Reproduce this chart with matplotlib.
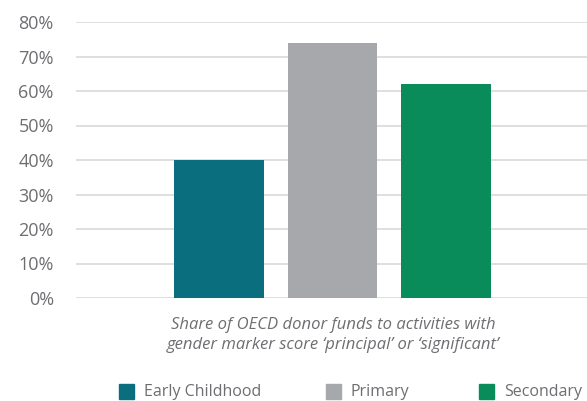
import matplotlib.pyplot as plt
from matplotlib.patches import Rectangle

categories = ["Early Childhood", "Primary", "Secondary"]
shares = [40, 74, 62]
colors = ["#0b6e7f", "#a7a8ab", "#0a8c5a"]
yticks = [0, 10, 20, 30, 40, 50, 60, 70, 80]
caption = "Share of OECD donor funds to activities with\ngender marker score \u2018principal\u2019 or \u2018significant\u2019"

text_color = "#6d6e71"
plt.rcParams["font.family"] = ["Open Sans", "DejaVu Sans"]

W, H = 587, 401
fig = plt.figure(figsize=(W / 100, H / 100), dpi=100)
ax = fig.add_axes([76 / W, 1 - 298 / H, 511 / W, 276 / H])

x = range(len(categories))
ax.bar(x, shares, width=0.79, color=colors, zorder=3)

ax.set_ylim(0, 80)
ax.set_xlim(-1.26, 3.24)
ax.set_yticks(yticks)
ax.set_yticklabels([f"{v}%" for v in yticks], color=text_color, fontsize=13)
ax.set_xticks([])
ax.tick_params(axis="y", length=0, pad=16)
ax.grid(axis="y", color="#dcdcdc", linewidth=1.3, zorder=0)
for s in ax.spines.values():
    s.set_visible(False)

fig.text(333 / W, 1 - 335 / H, caption, ha="center", va="center",
         style="italic", color=text_color, fontsize=12, linespacing=1.3)

# legend laid out by hand to match the spacing of the original
legend_x = [119, 326, 479]
for lx, c, name in zip(legend_x, colors, categories):
    fig.patches.append(Rectangle((lx / W, 1 - 399 / H), 15 / W, 15 / H,
                                 transform=fig.transFigure, color=c))
    fig.text((lx + 25) / W, 1 - 392 / H, name, ha="left", va="center",
             color=text_color, fontsize=11.5)

fig.savefig("out.png", dpi=100)
